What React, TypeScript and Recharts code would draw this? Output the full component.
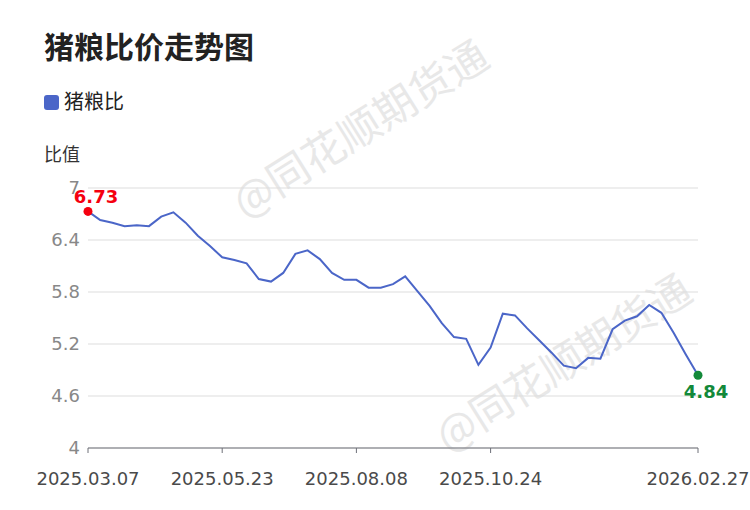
import React from "react";
import { LineChart, Line, XAxis, YAxis, CartesianGrid } from "recharts";

const dates: string[] = [
  "2025.03.07", "2025.03.14", "2025.03.21", "2025.03.28",
  "2025.04.04", "2025.04.11", "2025.04.18", "2025.04.25",
  "2025.05.02", "2025.05.09", "2025.05.16", "2025.05.23", "2025.05.30",
  "2025.06.06", "2025.06.13", "2025.06.20", "2025.06.27",
  "2025.07.04", "2025.07.11", "2025.07.18", "2025.07.25",
  "2025.08.01", "2025.08.08", "2025.08.15", "2025.08.22", "2025.08.29",
  "2025.09.05", "2025.09.12", "2025.09.19", "2025.09.26",
  "2025.10.03", "2025.10.10", "2025.10.17", "2025.10.24", "2025.10.31",
  "2025.11.07", "2025.11.14", "2025.11.21", "2025.11.28",
  "2025.12.05", "2025.12.12", "2025.12.19", "2025.12.26",
  "2026.01.02", "2026.01.09", "2026.01.16", "2026.01.23", "2026.01.30",
  "2026.02.06", "2026.02.13", "2026.02.27",
];

const ratio: number[] = [
  6.73, 6.63, 6.60, 6.56, 6.57, 6.56, 6.67, 6.72, 6.60, 6.45,
  6.33, 6.20, 6.17, 6.13, 5.95, 5.92, 6.02, 6.24, 6.28, 6.18,
  6.02, 5.94, 5.94, 5.85, 5.85, 5.89, 5.98, 5.81, 5.64, 5.44,
  5.28, 5.26, 4.96, 5.16, 5.55, 5.53, 5.38, 5.24, 5.10, 4.95,
  4.92, 5.04, 5.03, 5.37, 5.47, 5.52, 5.65, 5.56, 5.33, 5.08,
  4.84,
];

const xTicks: string[] = ["2025.03.07", "2025.05.23", "2025.08.08", "2025.10.24", "2026.02.27"];
const yTicks: number[] = [4, 4.6, 5.2, 5.8, 6.4, 7];

const title = "猪粮比价走势图";
const seriesName = "猪粮比";
const yAxisName = "比值";
const watermark = "@同花顺期货通";

const data = dates.map((d, i) => ({ date: d, ratio: ratio[i] }));

const FONT = "'DejaVu Sans', 'Noto Sans CJK SC', sans-serif";
const LINE_COLOR = "#4b66c8";
const RED = "#f5000f";
const GREEN = "#13893a";

const EndDot = (props: any) => {
  const { cx, cy, index, value } = props;
  const last = data.length - 1;
  if (index === 0) {
    return (
      <g key={`d${index}`}>
        <circle cx={cx} cy={cy} r={4.5} fill={RED} />
        <text x={cx + 8} y={cy - 8} textAnchor="middle" fill={RED} fontSize={18} fontWeight="bold" fontFamily={FONT}>
          {value.toFixed(2)}
        </text>
      </g>
    );
  }
  if (index === last) {
    return (
      <g key={`d${index}`}>
        <circle cx={cx} cy={cy} r={4.5} fill={GREEN} />
        <text x={cx + 8} y={cy + 23} textAnchor="middle" fill={GREEN} fontSize={18} fontWeight="bold" fontFamily={FONT}>
          {value.toFixed(2)}
        </text>
      </g>
    );
  }
  return <g key={`d${index}`} />;
};

export default function App() {
  return (
    <div style={{ position: "absolute", left: 0, top: 0, width: 750, height: 510, background: "#fff", fontFamily: FONT }}>
      <svg width={750} height={510} style={{ position: "absolute", left: 0, top: 0 }}>
        <text x={44} y={58} fontSize={30} fontWeight="bold" fill="#222" fontFamily="'Noto Sans CJK SC', sans-serif">
          {title}
        </text>
        <rect x={44} y={95} width={15} height={15} rx={3} fill={LINE_COLOR} />
        <text x={64} y={109} fontSize={20} fill="#222" fontFamily="'Noto Sans CJK SC', sans-serif">
          {seriesName}
        </text>
        <text x={44} y={161} fontSize={18} fill="#333" fontFamily="'Noto Sans CJK SC', sans-serif">
          {yAxisName}
        </text>
        <text x={360} y={144} fontSize={42} fill="#e8e8e8" textAnchor="middle"
          transform="rotate(-32 360 128)" fontFamily="'Noto Sans CJK SC', sans-serif">
          {watermark}
        </text>
        <text x={563} y={378} fontSize={42} fill="#e8e8e8" textAnchor="middle"
          transform="rotate(-32 563 362)" fontFamily="'Noto Sans CJK SC', sans-serif">
          {watermark}
        </text>
      </svg>
      <div style={{ position: "absolute", left: 0, top: 0 }}>
        <LineChart width={750} height={510} data={data} margin={{ top: 188, right: 52, bottom: 32, left: 0 }}>
          <CartesianGrid horizontal={true} vertical={false} stroke="#dddddd" />
          <XAxis
            dataKey="date"
            type="category"
            ticks={xTicks}
            interval={0}
            height={30}
            axisLine={{ stroke: "#6e7079" }}
            tickLine={{ stroke: "#6e7079" }}
            tickSize={5}
            tickMargin={19}
            tick={{ fill: "#4a4a4a", fontSize: 18, fontFamily: FONT }}
          />
          <YAxis
            type="number"
            domain={[4, 7]}
            ticks={yTicks}
            width={88}
            axisLine={false}
            tickLine={false}
            tick={{ fill: "#888", fontSize: 18, fontFamily: FONT }}
          />
          <Line
            type="linear"
            dataKey="ratio"
            stroke={LINE_COLOR}
            strokeWidth={2}
            dot={EndDot}
            activeDot={false}
            isAnimationActive={false}
          />
        </LineChart>
      </div>
    </div>
  );
}
